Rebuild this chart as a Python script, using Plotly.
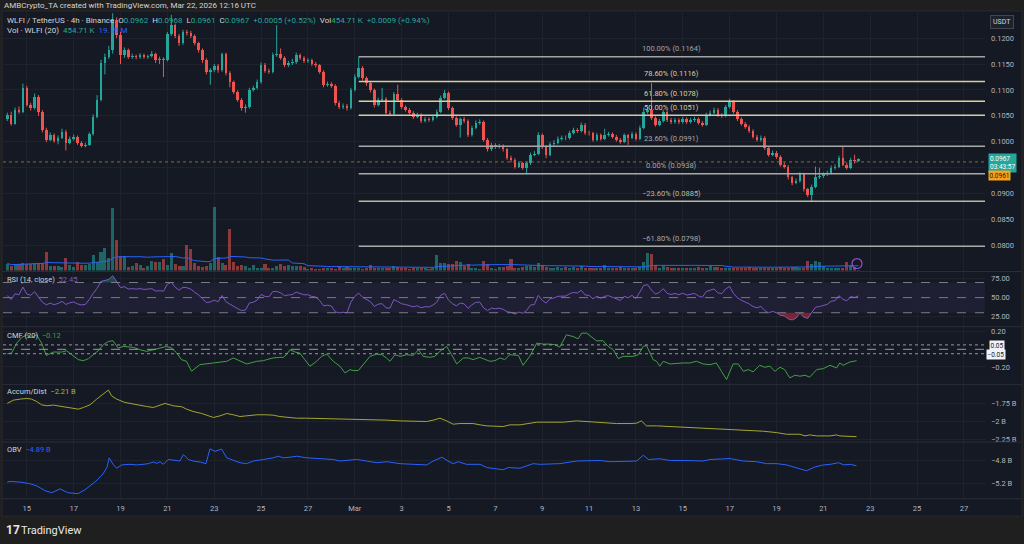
import numpy as np
import pandas as pd
import plotly.graph_objects as go

# ---------------- data ----------------
START = "2026-02-14 04:00"      # first visible 4h candle
first_open_e4 = 1043            # prices below are in units of 0.0001 USDT
close_e4 = [1052,1035,1062,1058,1104,1071,1065,1087,1058,1023,
            1004,1013,1002,1008,1019,998,1006,1010,998,992,
            994,1015,1048,1081,1152,1163,1177,1235,1206,1167,
            1177,1163,1165,1163,1167,1163,1165,1169,1158,1160,
            1158,1208,1225,1204,1190,1212,1210,1204,1190,1177,
            1158,1135,1138,1146,1138,1169,1133,1115,1096,1081,
            1065,1067,1100,1104,1115,1148,1137,1135,1167,1169,
            1162,1148,1152,1154,1167,1162,1156,1157,1150,1148,
            1135,1110,1112,1108,1075,1067,1069,1065,1100,1125,
            1142,1123,1113,1100,1071,1081,1083,1056,1054,1092,
            1081,1067,1062,1056,1048,1052,1040,1044,1042,1048,
            1058,1085,1094,1065,1046,1033,1044,1040,1013,1027,
            1037,1038,1004,985,994,990,992,985,969,965,
            952,958,950,958,975,977,1013,990,975,995,
            998,1006,1008,1007,1017,1023,1021,1033,1017,1016,
            1004,1013,1006,1013,1015,1010,1004,1000,1012,1008,
            1015,1006,1027,1058,1062,1046,1033,1040,1058,1042,
            1038,1042,1038,1044,1038,1042,1044,1037,1033,1052,
            1056,1062,1052,1050,1067,1077,1058,1044,1035,1029,
            1021,1010,1004,1008,988,975,979,971,956,952,
            931,921,925,937,908,898,913,931,933,937,
            940,950,952,969,956,950,965,962,967]
high_e4 = [1056,1058,1066,1068,1112,1108,1075,1093,1090,1061,
           1027,1018,1016,1012,1025,1023,1010,1014,1012,1001,
           998,1018,1053,1090,1158,1170,1185,1248,1240,1212,
           1182,1180,1170,1168,1171,1170,1168,1175,1172,1164,
           1163,1212,1245,1228,1208,1216,1216,1214,1207,1193,
           1180,1161,1142,1150,1150,1172,1172,1136,1118,1099,
           1084,1072,1104,1108,1120,1153,1152,1141,1172,1225,
           1180,1165,1156,1160,1172,1170,1165,1161,1160,1154,
           1150,1138,1116,1115,1111,1079,1074,1073,1104,1130,
           1164,1146,1126,1116,1103,1085,1104,1086,1060,1096,
           1110,1084,1070,1065,1059,1056,1055,1048,1047,1052,
           1062,1089,1100,1097,1068,1049,1047,1048,1043,1031,
           1041,1043,1041,1007,998,997,996,995,988,973,
           968,962,961,962,979,982,1018,1016,993,999,
           1003,1010,1012,1012,1021,1027,1026,1037,1036,1021,
           1019,1017,1016,1025,1019,1018,1013,1007,1016,1015,
           1019,1018,1031,1066,1067,1113,1049,1044,1062,1061,
           1046,1046,1045,1048,1047,1046,1048,1047,1040,1056,
           1060,1066,1065,1055,1071,1083,1080,1061,1047,1038,
           1032,1024,1013,1012,1011,991,983,982,974,960,
           955,934,929,941,940,911,917,952,950,941,
           944,954,956,973,990,960,969,975,968]
low_e4 = [1040,1031,1033,1054,1055,1068,1060,1062,1050,1018,
          999,1001,998,995,1005,983,995,1002,994,989,
          989,992,1012,1045,1078,1130,1160,1170,1200,1150,
          1162,1160,1160,1159,1160,1160,1160,1162,1152,1150,
          1125,1155,1204,1200,1185,1187,1205,1200,1186,1172,
          1152,1130,1110,1134,1133,1135,1128,1105,1092,1077,
          1060,1056,1064,1097,1101,1112,1133,1131,1132,1164,
          1158,1144,1144,1148,1150,1158,1152,1152,1146,1143,
          1131,1105,1106,1104,1070,1063,1063,1060,1062,1097,
          1122,1118,1108,1095,1066,1068,1078,1052,1050,1050,
          1077,1063,1058,1052,1044,1045,1036,1037,1038,1039,
          1045,1055,1082,1061,1042,1029,1008,1036,1009,1010,
          1024,1033,1000,981,982,986,987,981,965,960,
          948,949,946,937,955,972,974,986,968,972,
          992,995,1002,1003,1004,1014,1017,1018,1013,1012,
          1000,1001,1002,1003,1010,1006,1000,996,997,994,
          1005,1002,1003,1024,1054,1042,1029,1030,1037,1038,
          1034,1035,1034,1035,1034,1035,1038,1033,1029,1030,
          1049,1053,1048,1046,1047,1064,1054,1040,1031,1025,
          1017,1006,1000,1000,984,971,972,967,952,948,
          927,916,918,921,904,893,885,910,928,930,
          934,937,946,949,953,946,947,958,961]
volume_m = [22.4,16.0,19.2,22.4,25.6,22.4,22.4,25.6,25.6,25.6,
            60.8,16.0,16.0,16.0,12.8,41.6,19.2,12.8,28.8,19.2,
            19.2,22.4,51.2,28.8,60.8,73.6,41.6,201.6,99.2,48.0,
            48.0,12.8,16.0,25.6,19.2,9.6,16.0,32.0,28.8,28.8,
            38.4,19.2,57.6,22.4,16.0,16.0,83.2,70.4,25.6,16.0,
            12.8,16.0,25.6,204.8,44.8,25.6,19.2,134.4,28.8,16.0,
            19.2,16.0,9.6,19.2,9.6,9.6,22.4,9.6,9.6,16.0,
            22.4,16.0,19.2,16.0,16.0,16.0,12.8,6.4,9.6,6.4,
            6.4,9.6,9.6,9.6,6.4,16.0,9.6,12.8,9.6,9.6,
            9.6,6.4,9.6,19.2,9.6,9.6,9.6,9.6,9.6,16.0,
            12.8,9.6,9.6,6.4,9.6,9.6,9.6,9.6,6.4,9.6,
            51.2,25.6,25.6,22.4,22.4,32.0,28.8,16.0,22.4,9.6,
            9.6,6.4,32.0,22.4,9.6,6.4,12.8,12.8,16.0,38.4,
            9.6,9.6,12.8,16.0,16.0,12.8,25.6,19.2,12.8,9.6,
            9.6,12.8,9.6,12.8,9.6,12.8,9.6,16.0,9.6,9.6,
            9.6,9.6,9.6,19.2,9.6,9.6,9.6,12.8,9.6,9.6,
            9.6,9.6,12.8,28.8,57.6,54.4,19.2,9.6,16.0,12.8,
            9.6,9.6,9.6,9.6,9.6,9.6,9.6,12.8,9.6,9.6,
            16.0,12.8,12.8,9.6,9.6,9.6,9.6,9.6,9.6,9.6,
            12.8,9.6,9.6,9.6,9.6,9.6,9.6,9.6,12.8,9.6,
            9.6,12.8,12.8,9.6,9.6,32.0,22.4,32.0,28.8,16.0,
            9.6,9.6,9.6,9.6,9.6,28.8,19.2,12.8,0.45]

fib_labels = ["100.00%", "78.60%", "61.80%", "50.00%", "23.60%", "0.00%", "−23.60%", "−61.80%"]
fib_prices = [0.1164, 0.1116, 0.1078, 0.1051, 0.0991, 0.0938, 0.0885, 0.0798]
fib_colors = ["#a3a3a3", "#d6cf9c", "#ddd29a", "#d2ccac", "#a9a9a9", "#a9a9a9", "#bdb8a0", "#a9a9a9"]
fib_anchor_bar = 90

cmf_bar = [0,1.1,2.4,3.7,5,6.2,7.5,8.8,10,11.8,14,15.2,16.5,18.2,19.5,20.8,22,23.3,24.6,25.9,
           27.1,28.4,29.7,32.3,34,35.7,37.4,39.1,40.8,42.1,43.4,44.6,45.9,47.2,49.3,52.8,56.2,57.9,59.6,61.3,
           63.9,65.6,66.4,68.1,69.8,70.7,71.5,72.4,73.7,74.9,76.2,77.5,79.2,80.5,81.8,83.5,85.2,86.5,87.8,88.6,
           89.9,91.2,92.9,94.6,95.9,97.1,98,99.3,100.6,102.3,104,105.3,106.5,108.2,109.5,110.8,112.5,113.8,115.1,116.8,
           118.1,119.3,121,123.6,124.9,126.2,127.4,128.7,130.9,132.1,133.8,135.6,137.3,139,140.2,141.5,143.2,144.9,146.2,147.1,
           148.4,150.9,152.6,153.9,155.2,156.5,157.7,159,160.3,161.6,162.9,163.7,165.4,166.3,167.1,168,169.7,173.1,174.8,176.5,
           178.2,180,181.6,182.9,184.2,185.9,187.2,188.5,189.8,191,192.7,194,195.3,196.6,197.9,199.1,200.4,201.7,203,204.3,
           205.5,207.3,209,210.7,212.4,213.2,214.1,215.8,217.5]
cmf_val = [-0.05,-0.042,0.070,0.134,0.164,0.134,0.164,0.070,-0.069,-0.031,-0.031,-0.016,-0.061,-0.117,-0.129,-0.106,-0.061,-0.016,0.052,0.089,
           0.097,0.014,0.033,0.022,-0.005,-0.023,-0.005,0.014,0.033,0.014,-0.042,-0.117,-0.136,-0.249,-0.174,-0.155,-0.136,-0.098,-0.136,-0.166,
           -0.136,-0.129,-0.117,-0.098,-0.091,-0.091,-0.061,-0.005,-0.031,-0.042,-0.117,-0.192,-0.136,-0.080,-0.054,-0.136,-0.192,-0.268,-0.230,-0.241,
           -0.241,-0.174,-0.080,-0.054,-0.061,-0.098,-0.136,-0.061,-0.080,-0.061,-0.069,-0.005,-0.080,-0.091,-0.080,-0.023,0.033,-0.061,-0.166,-0.098,
           -0.098,-0.117,-0.091,-0.136,-0.129,-0.098,-0.117,-0.061,-0.069,-0.181,-0.080,0.070,0.059,0.059,0.052,0.025,0.164,0.145,0.119,0.183,
           0.183,0.097,0.097,0.033,-0.005,-0.106,-0.080,-0.080,-0.080,-0.061,0.033,0.044,-0.117,-0.136,-0.192,-0.136,-0.166,-0.155,-0.155,-0.136,
           -0.166,-0.174,-0.155,-0.249,-0.343,-0.166,-0.166,-0.249,-0.230,-0.256,-0.181,-0.204,-0.192,-0.249,-0.204,-0.230,-0.324,-0.294,-0.305,-0.294,
           -0.316,-0.230,-0.219,-0.181,-0.211,-0.155,-0.181,-0.144,-0.129,-0.12]

ad_bar = [0,1.6,3.3,5,6.2,7.5,8.8,10.1,11.8,13.9,16.1,18.2,19.5,21.2,22.9,24.6,25.9,26.7,28,30.1,
          32.3,34,35.7,37.4,39.1,40.4,42.5,44.7,45.9,47.6,49.8,51.5,52.8,54.5,56.2,57.9,59.6,61.3,63.9,66.4,
          68.1,69.8,71.6,74.1,76.7,80.1,83.5,86.9,90.3,93.7,97.2,100.6,104,107.4,109.1,110.8,112.5,114.2,115.9,119.3,
          121.1,122.8,127,128.7,131.3,133.8,135.6,139,142.4,145.8,149.2,152.6,156,159.5,161.2,162.4,163.7,166.3,169.7,173.1,
          176.5,180,183.4,186.8,190.2,193.6,197,199.6,203,204.3,205.5,207.3,210.7,212.4,213.2,214.9,217.5]
ad_val = [-1.750,-1.704,-1.690,-1.681,-1.690,-1.722,-1.769,-1.782,-1.773,-1.792,-1.806,-1.829,-1.806,-1.769,-1.690,-1.620,-1.565,-1.644,-1.690,-1.736,
          -1.759,-1.782,-1.792,-1.806,-1.769,-1.750,-1.782,-1.796,-1.829,-1.861,-1.889,-1.921,-1.944,-1.921,-1.889,-1.907,-1.931,-1.921,-1.907,-1.907,
          -1.912,-1.931,-1.944,-1.954,-1.954,-1.958,-1.968,-1.972,-1.968,-1.977,-1.981,-1.991,-1.991,-2.000,-1.981,-1.954,-1.991,-2.037,-2.028,-2.028,
          -2.046,-2.060,-2.069,-2.046,-2.046,-2.023,-2.009,-2.009,-2.009,-1.991,-2.005,-2.014,-2.028,-2.028,-2.023,-1.991,-2.060,-2.060,-2.069,-2.083,
          -2.093,-2.093,-2.102,-2.120,-2.130,-2.134,-2.153,-2.176,-2.176,-2.199,-2.185,-2.199,-2.199,-2.185,-2.199,-2.204,-2.21]

obv_bar = [0,0.7,3.3,5.8,7.6,9.7,11.4,13.5,15.5,18.1,19.9,21.2,23,24.5,25.5,26.1,27.1,28,29.3,31.4,
           33.1,34.8,36.1,37.4,38.3,39.1,40,41.2,42.5,44.2,45.1,46.4,47.6,49.4,50.9,51.9,53.2,54.9,56.2,57.9,
           59.6,61.3,63,65.6,68.1,69.4,70.7,72.4,74.1,76.7,80.1,83.5,85.2,87.8,89.5,92,94.6,97.2,100.6,104,
           107.4,109.1,111.3,112.9,114.2,115.5,117.6,121.1,122.8,127,128.3,131.3,134.7,136.4,139,141.5,145.8,149.2,151.8,154.3,
           157.8,161.2,162.9,164.2,167.2,169.7,173.1,175.7,178.2,180,183.4,185.1,188.5,191.9,194.5,197.1,199.6,202.2,204.7,206.9,
           209,210.8,212.9,214.2,215.9,217.5]
obv_val = [-5.183,-5.170,-5.183,-5.212,-5.252,-5.339,-5.374,-5.304,-5.374,-5.391,-5.322,-5.252,-5.148,-5.038,-4.922,-4.748,-4.864,-4.934,-4.875,-4.864,
           -4.875,-4.864,-4.852,-4.823,-4.847,-4.817,-4.864,-4.777,-4.795,-4.805,-4.690,-4.777,-4.805,-4.823,-4.852,-4.586,-4.631,-4.591,-4.748,-4.795,
           -4.835,-4.852,-4.805,-4.777,-4.748,-4.718,-4.748,-4.736,-4.718,-4.748,-4.760,-4.777,-4.805,-4.795,-4.777,-4.805,-4.835,-4.817,-4.852,-4.864,
           -4.875,-4.805,-4.736,-4.805,-4.852,-4.817,-4.864,-4.864,-4.922,-4.962,-4.922,-4.934,-4.852,-4.864,-4.852,-4.852,-4.805,-4.805,-4.795,-4.817,
           -4.817,-4.805,-4.701,-4.777,-4.765,-4.795,-4.795,-4.805,-4.805,-4.777,-4.760,-4.760,-4.805,-4.817,-4.852,-4.852,-4.875,-4.922,-4.979,-4.910,
           -4.875,-4.864,-4.835,-4.875,-4.864,-4.89]

RSI_LEN = 14
RSI_SEED_AVG = 0.0006           # average gain / loss carried in from bars before the window

price_ticks = [0.080, 0.085, 0.090, 0.095, 0.100, 0.105, 0.110, 0.115, 0.120]
date_ticks = ["2026-02-15", "2026-02-17", "2026-02-19", "2026-02-21", "2026-02-23", "2026-02-25", "2026-02-27",
              "2026-03-01", "2026-03-03", "2026-03-05", "2026-03-07", "2026-03-09", "2026-03-11", "2026-03-13",
              "2026-03-15", "2026-03-17", "2026-03-19", "2026-03-21", "2026-03-23", "2026-03-25", "2026-03-27"]
date_labels = ["15", "17", "19", "21", "23", "25", "27", "Mar", "3", "5", "7", "9", "11", "13",
               "15", "17", "19", "21", "23", "25", "27"]
X_RANGE = ["2026-02-13 23:37", "2026-03-27 21:36"]
last_price = 0.0967
aux_price = 0.0961

# ---------------- styling ----------------
BG = "#151924"
FRAME = "#1f1f1f"
GRID = "#1e222d"
SEP = "#2a2e39"
TXT = "#b2b5be"
TXT2 = "#d1d4dc"
UP = "#26a69a"
DN = "#ef5350"
FONT = "Roboto"
W, H = 1024, 544


def px_y(y):
    return 1 - y / H


def px_x(x):
    return x / W


times = pd.date_range(START, periods=len(close_e4), freq="4h")
close = np.array(close_e4) / 1e4
opens = np.array([first_open_e4] + close_e4[:-1]) / 1e4
high = np.array(high_e4) / 1e4
low = np.array(low_e4) / 1e4
up = close >= opens
bar_ms = 4 * 3600 * 1000


def bar_time(b):
    return pd.Timestamp(START) + pd.to_timedelta(np.array(b) * 4, unit="h")


fig = go.Figure()

# volume (overlay axis)
vol_colors = np.where(up, "rgba(38,166,154,0.55)", "rgba(239,83,80,0.55)")
fig.add_trace(go.Bar(x=times, y=volume_m, marker=dict(color=list(vol_colors), line=dict(width=0)),
                     width=bar_ms * 0.78, yaxis="y6", hoverinfo="skip"))
vol_ma = pd.Series(volume_m).rolling(20, min_periods=1).mean()
fig.add_trace(go.Scatter(x=times, y=vol_ma, mode="lines", line=dict(color="#2962ff", width=1),
                         yaxis="y6", hoverinfo="skip"))

# candles: wicks + bodies
for mask, col in ((up, UP), (~up, DN)):
    xs, ys = [], []
    for t, h, l in zip(times[mask], high[mask], low[mask]):
        xs += [t, t, None]
        ys += [l, h, None]
    fig.add_trace(go.Scatter(x=xs, y=ys, mode="lines", line=dict(color=col, width=1),
                             yaxis="y", hoverinfo="skip"))
    body = np.maximum(np.abs(close - opens), 0.00006)
    base = np.minimum(close, opens)
    fig.add_trace(go.Bar(x=times[mask], y=body[mask], base=base[mask],
                         marker=dict(color=col, line=dict(width=0)),
                         width=bar_ms * 0.66, yaxis="y", hoverinfo="skip"))

# auxiliary dotted price line
fig.add_trace(go.Scatter(x=X_RANGE, y=[aux_price, aux_price], mode="lines",
                         line=dict(color="#8a6d2c", width=1, dash="dot"), yaxis="y", hoverinfo="skip"))

# Fibonacci retracement
fib_start = times[fib_anchor_bar]
fib_end = pd.Timestamp(X_RANGE[1])
fib_mid = fib_start + (fib_end - fib_start) / 2
annotations = []
for lab, p, c in zip(fib_labels, fib_prices, fib_colors):
    fig.add_trace(go.Scatter(x=[fib_start, fib_end], y=[p, p], mode="lines",
                             line=dict(color=c, width=1.5), yaxis="y", hoverinfo="skip"))
    annotations.append(dict(x=fib_mid, y=p, xref="x", yref="y", text=f"{lab} ({p:.4f})",
                            showarrow=False, yshift=8, font=dict(size=7.5, color=c, family=FONT)))

# RSI (Wilder smoothing, seeded with the pre-window average move)
ag = al = RSI_SEED_AVG
prev = opens[0]
rsi = []
for c in close:
    ch = c - prev
    ag = (ag * (RSI_LEN - 1) + max(ch, 0)) / RSI_LEN
    al = (al * (RSI_LEN - 1) + max(-ch, 0)) / RSI_LEN
    rsi.append(100 - 100 / (1 + ag / al))
    prev = c
rsi = np.array(rsi)
fig.add_trace(go.Scatter(x=times, y=np.full(len(times), 30.0), mode="lines", line=dict(width=0),
                         yaxis="y2", hoverinfo="skip"))
fig.add_trace(go.Scatter(x=times, y=np.minimum(rsi, 30), mode="lines", line=dict(width=0),
                         fill="tonexty", fillcolor="rgba(242,54,69,0.45)", yaxis="y2", hoverinfo="skip"))
fig.add_trace(go.Scatter(x=times, y=np.full(len(times), 70.0), mode="lines", line=dict(width=0),
                         yaxis="y2", hoverinfo="skip"))
fig.add_trace(go.Scatter(x=times, y=np.maximum(rsi, 70), mode="lines", line=dict(width=0),
                         fill="tonexty", fillcolor="rgba(38,166,154,0.35)", yaxis="y2", hoverinfo="skip"))
fig.add_trace(go.Scatter(x=times, y=rsi, mode="lines", line=dict(color="#7e57c2", width=1),
                         yaxis="y2", hoverinfo="skip"))

# CMF, A/D, OBV
fig.add_trace(go.Scatter(x=bar_time(cmf_bar), y=cmf_val, mode="lines", line=dict(color="#43a047", width=1),
                         yaxis="y3", hoverinfo="skip"))
fig.add_trace(go.Scatter(x=bar_time(ad_bar), y=ad_val, mode="lines", line=dict(color="#a5a531", width=1),
                         yaxis="y4", hoverinfo="skip"))
fig.add_trace(go.Scatter(x=bar_time(obv_bar), y=obv_val, mode="lines", line=dict(color="#2962ff", width=1),
                         yaxis="y5", hoverinfo="skip"))

# ---------------- layout ----------------
XDOM = [px_x(3), px_x(985)]
ax_common = dict(side="right", anchor="x", zeroline=False, showline=False, ticks="",
                 tickfont=dict(size=7.5, color=TXT, family=FONT), gridcolor=GRID, gridwidth=1,
                 ticklabelstandoff=5, fixedrange=True)

fig.update_layout(
    width=W, height=H, margin=dict(l=0, r=0, t=0, b=0),
    paper_bgcolor=FRAME, plot_bgcolor=BG, showlegend=False, barmode="overlay", bargap=0,
    font=dict(family=FONT, color=TXT, size=7),
    xaxis=dict(domain=XDOM, anchor="y5", type="date", range=X_RANGE, tickvals=date_ticks,
               ticktext=date_labels, showgrid=True, gridcolor=GRID, zeroline=False, showline=False,
               ticks="", ticklabelstandoff=4, tickfont=dict(size=7.5, color=TXT, family=FONT),
               fixedrange=True),
    yaxis=dict(domain=[px_y(272), px_y(12)], range=[0.07514, 0.12505], tickvals=price_ticks,
               ticktext=[f"{v:.4f}" for v in price_ticks], **ax_common),
    yaxis6=dict(overlaying="y", anchor="x", range=[0, 832], visible=False, fixedrange=True),
    yaxis2=dict(domain=[px_y(328), px_y(273.5)], range=[12.2, 83.9], tickvals=[25, 50, 75],
                ticktext=["25.00", "50.00", "75.00"], **ax_common),
    yaxis3=dict(domain=[px_y(386), px_y(329)], range=[-0.392, 0.251], tickvals=[-0.2, 0.2],
                ticktext=["−0.20", "0.20"], **ax_common),
    yaxis4=dict(domain=[px_y(444), px_y(387)], range=[-2.277, -1.493], tickvals=[-2.25, -2.0, -1.75],
                ticktext=["−2.25 B", "−2 B", "−1.75 B"], **ax_common),
    yaxis5=dict(domain=[px_y(501), px_y(445)], range=[-5.473, -4.473], tickvals=[-5.2, -4.8],
                ticktext=["−5.2 B", "−4.8 B"], **ax_common),
)

shapes = [
    dict(type="rect", xref="paper", yref="paper", x0=px_x(2), x1=px_x(1022), y0=px_y(519), y1=px_y(11),
         fillcolor=BG, line=dict(color="#2a2a2a", width=1), layer="below"),
    dict(type="rect", xref="x domain", yref="y2", x0=0, x1=1, y0=30, y1=70,
         fillcolor="rgba(126,87,194,0.10)", line=dict(width=0), layer="below"),
]
for lvl in (70, 50, 30):
    shapes.append(dict(type="line", xref="x domain", yref="y2", x0=0, x1=1, y0=lvl, y1=lvl,
                       line=dict(color="#787b86", width=1, dash="dash")))
for lvl, dsh in ((0.05, "dot"), (0.0, "dash"), (-0.05, "dot")):
    shapes.append(dict(type="line", xref="x domain", yref="y3", x0=0, x1=1, y0=lvl, y1=lvl,
                       line=dict(color="#9598a1", width=1, dash=dsh)))
for ysep in (273, 328.5, 386.5, 444.5, 501.5):
    shapes.append(dict(type="line", xref="paper", yref="paper", x0=px_x(2), x1=px_x(1022),
                       y0=px_y(ysep), y1=px_y(ysep), line=dict(color=SEP, width=1)))
# small alert icon near the last volume bar
shapes.append(dict(type="circle", xref="paper", yref="paper", x0=px_x(852), x1=px_x(862),
                   y0=px_y(270), y1=px_y(260), line=dict(color="#9c4dcc", width=1.2)))
fig.update_layout(shapes=shapes)


def ann(x, y, text, size=7.5, color=TXT2, **kw):
    d = dict(x=px_x(x), y=px_y(y), xref="paper", yref="paper", text=text, showarrow=False,
             xanchor="left", yanchor="middle", font=dict(size=size, color=color, family=FONT))
    d.update(kw)
    return d


teal = UP
sp = "&nbsp;&nbsp;"
annotations += [
    ann(2, 6, "AMBCrypto_TA created with TradingView.com, Mar 22, 2026 12:16 UTC", size=8, color=TXT2),
    ann(5, 20.5, f"WLFI / TetherUS · 4h · Binance{sp}"
        f"O<span style='color:{teal}'>0.0962</span>{sp}H<span style='color:{teal}'>0.0968</span>{sp}"
        f"L<span style='color:{teal}'>0.0961</span>{sp}C<span style='color:{teal}'>0.0967</span>{sp}"
        f"<span style='color:{teal}'>+0.0005 (+0.52%)</span>{sp}Vol<span style='color:{teal}'>454.71 K</span>{sp}"
        f"<span style='color:{teal}'>+0.0009 (+0.94%)</span>", size=8, color=TXT2),
    ann(5, 31, f"Vol · WLFI (20){sp}<span style='color:{teal}'>454.71 K</span>{sp}"
        "<span style='color:#2962ff'>19.19 M</span>", size=8, color=TXT2),
    ann(5, 281, f"RSI (14, close){sp}<span style='color:#7e57c2'>52.45</span>", size=7.5, color=TXT2),
    ann(5, 337, f"CMF (20){sp}<span style='color:#43a047'>−0.12</span>", size=7.5, color=TXT2),
    ann(5, 394, f"Accum/Dist{sp}<span style='color:#b5b53a'>−2.21 B</span>", size=7.5, color=TXT2),
    ann(5, 452, f"OBV{sp}<span style='color:#2962ff'>−4.89 B</span>", size=7.5, color=TXT2),
    # price scale badges
    ann(990, 22, "USDT", size=7, color=TXT2, bgcolor="#1e222d", bordercolor="#434651", borderwidth=1, borderpad=2),
    ann(988, 164, "0.0967<br>03:43:57", size=6.5, color="#ffffff", bgcolor=teal, borderpad=1, align="left"),
    ann(988, 176.5, "0.0961", size=6.5, color="#131722", bgcolor="#f7a21b", borderpad=0.5),
    ann(989, 347, "0.05", size=6.5, color="#131722", bgcolor="#f0f3fa", borderpad=0.5),
    ann(986, 356.5, "−0.05", size=6.5, color="#131722", bgcolor="#f0f3fa", borderpad=0.5),
    # footer logo
    ann(4, 533, "<b>17</b>", size=12, color="#e8e8e8"),
    ann(19, 533, "TradingView", size=11, color="#e8e8e8"),
]
fig.update_layout(annotations=annotations)

fig.write_html("out.html", config={"displayModeBar": False, "staticPlot": True},
               post_script="document.body.style.margin='0px';document.body.style.overflow='hidden';")
